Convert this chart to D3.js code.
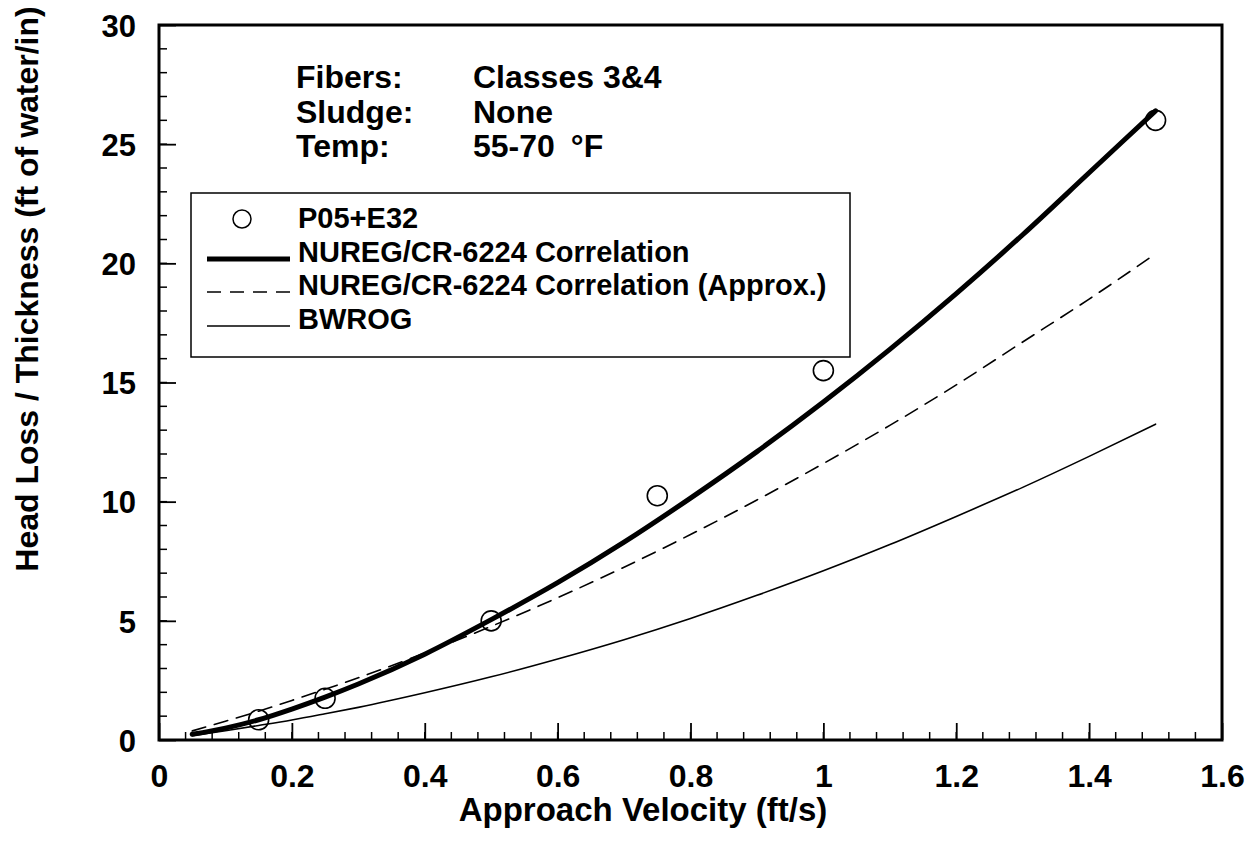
<!DOCTYPE html>
<html><head><meta charset="utf-8">
<script src="https://cdn.jsdelivr.net/npm/d3@7"></script>
<style>body{margin:0;background:#fff}text{font-family:"Liberation Sans",Arial,Helvetica,sans-serif;font-weight:bold;fill:#000}</style>
</head><body>
<svg id="c" width="1249" height="856"></svg>
<script>
// ---- data ----
const xTicks = [0, 0.2, 0.4, 0.6, 0.8, 1, 1.2, 1.4, 1.6];
const yTicks = [0, 5, 10, 15, 20, 25, 30];
const xMinor = d3.range(0, 1.6001, 0.04);
const yMinor = d3.range(0, 30.001, 1);

const velocity = [0.05, 0.1, 0.15, 0.2, 0.25, 0.3, 0.4, 0.5, 0.6, 0.7, 0.8, 0.9, 1.0, 1.1, 1.2, 1.3, 1.4, 1.5];
const nuregCorr = [0.24, 0.5, 0.85, 1.3, 1.8, 2.35, 3.6, 5.05, 6.6, 8.3, 10.15, 12.1, 14.18, 16.39, 18.73, 21.2, 23.8, 26.4];
const nuregApprox = [0.38, 0.79, 1.21, 1.66, 2.13, 2.61, 3.65, 4.77, 5.97, 7.25, 8.62, 10.07, 11.6, 13.2, 14.9, 16.7, 18.5, 20.4];
const bwrog = [0.18, 0.39, 0.61, 0.84, 1.1, 1.37, 1.98, 2.65, 3.4, 4.21, 5.1, 6.07, 7.1, 8.2, 9.38, 10.6, 11.9, 13.25];

const testV = [0.15, 0.25, 0.5, 0.75, 1.0, 1.5];
const testHL = [0.85, 1.75, 5.0, 10.25, 15.5, 26.0];

const legendLabels = ["P05+E32", "NUREG/CR-6224 Correlation", "NUREG/CR-6224 Correlation (Approx.)", "BWROG"];
const noteKeys = ["Fibers:", "Sludge:", "Temp:"];
const noteVals = ["Classes 3&4", "None", "55-70"];

// ---- layout ----
const svg = d3.select("#c");
const L = 159, R = 1222, T = 25, B = 740;
const x = d3.scaleLinear().domain([0, 1.6]).range([L, R]);
const y = d3.scaleLinear().domain([0, 30]).range([B, T]);

// minor ticks
const g = svg.append("g");
g.selectAll(".xm").data(xMinor).join("line")
  .attr("x1", d => x(d)).attr("x2", d => x(d)).attr("y1", B).attr("y2", B - 8)
  .attr("stroke", "#000").attr("stroke-width", 1.5);
g.selectAll(".ym").data(yMinor).join("line")
  .attr("y1", d => y(d)).attr("y2", d => y(d)).attr("x1", L).attr("x2", L + 8)
  .attr("stroke", "#000").attr("stroke-width", 1.5);

// axes (major ticks inward)
const xAxis = svg.append("g").attr("transform", `translate(0,${B})`)
  .call(d3.axisBottom(x).tickValues(xTicks).tickSize(-17).tickFormat(d => d3.format("")(d)));
const yAxis = svg.append("g").attr("transform", `translate(${L},0)`)
  .call(d3.axisLeft(y).tickValues(yTicks).tickSize(-17).tickPadding(23));
[xAxis, yAxis].forEach(a => {
  a.select(".domain").remove();
  a.selectAll(".tick line").attr("stroke", "#000").attr("stroke-width", 1.8);
  a.selectAll("text").attr("fill", "#000");
});
xAxis.selectAll("text").style("font-size", "32px").attr("dy", null).attr("y", 47);
yAxis.selectAll("text").style("font-size", "31px").attr("dy", "0.36em");

// frame
svg.append("rect").attr("x", L).attr("y", T).attr("width", R - L).attr("height", B - T)
  .attr("fill", "none").attr("stroke", "#000").attr("stroke-width", 3);

// curves
const line = d3.line().x(d => x(d[0])).y(d => y(d[1])).curve(d3.curveMonotoneX);
const series = [
  {vals: nuregCorr, w: 5, dash: null},
  {vals: nuregApprox, w: 1.6, dash: "14,9"},
  {vals: bwrog, w: 1.6, dash: null}
];
series.forEach(s => {
  svg.append("path").datum(velocity.map((v, i) => [v, s.vals[i]]))
    .attr("d", line).attr("fill", "none").attr("stroke", "#000")
    .attr("stroke-width", s.w).attr("stroke-dasharray", s.dash).attr("stroke-linecap", "round");
});

// test points
svg.selectAll(".pt").data(testV.map((v, i) => [v, testHL[i]])).join("circle")
  .attr("cx", d => x(d[0])).attr("cy", d => y(d[1])).attr("r", 10)
  .attr("fill", "none").attr("stroke", "#000").attr("stroke-width", 1.6);

// annotation
noteKeys.forEach((k, i) => {
  svg.append("text").attr("x", 296).attr("y", 88 + i * 34.5).style("font-size", "32px").text(k);
  const t = svg.append("text").attr("x", 473).attr("y", 88 + i * 34.5).style("font-size", "32px").text(noteVals[i]);
  if (i === 2) t.append("tspan").attr("dx", 16).text("°F");
});

// legend
svg.append("rect").attr("x", 191).attr("y", 193).attr("width", 659).attr("height", 164)
  .attr("fill", "#fff").attr("stroke", "#000").attr("stroke-width", 1.5);
const ly = [228, 262, 295, 329];
legendLabels.forEach((lab, i) => {
  svg.append("text").attr("x", 298).attr("y", ly[i]).style("font-size", "29px").text(lab);
});
svg.append("circle").attr("cx", 242).attr("cy", 219).attr("r", 9).attr("fill", "none").attr("stroke", "#000").attr("stroke-width", 1.5);
[[1, 5, null], [2, 1.6, "14,9"], [3, 1.6, null]].forEach(([i, w, dash]) => {
  svg.append("line").attr("x1", 207).attr("x2", 290).attr("y1", ly[i] - 3).attr("y2", ly[i] - 3)
    .attr("stroke", "#000").attr("stroke-width", w).attr("stroke-dasharray", dash);
});

// axis titles
svg.append("text").attr("x", 643).attr("y", 821).attr("text-anchor", "middle")
  .style("font-size", "33px").text("Approach Velocity (ft/s)");
svg.append("text").attr("transform", "translate(38,289) rotate(-90)").attr("text-anchor", "middle")
  .style("font-size", "32px").text("Head Loss / Thickness (ft of water/in)");
</script>
</body></html>
